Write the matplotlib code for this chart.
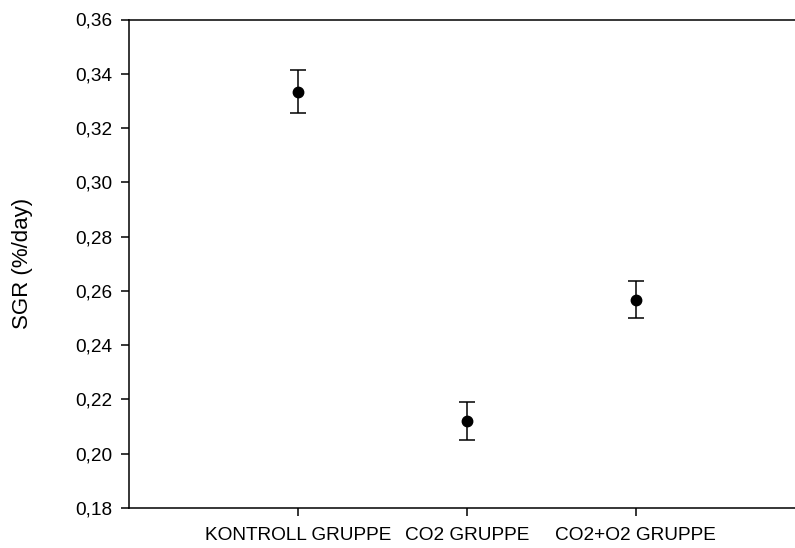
import matplotlib.pyplot as plt

plt.rcParams['font.family'] = ['Liberation Sans', 'DejaVu Sans']

# data
groups = ['KONTROLL GRUPPE', 'CO2 GRUPPE', 'CO2+O2 GRUPPE']
sgr_mean = [0.3334, 0.2122, 0.2568]
sgr_err = [0.0079, 0.0070, 0.0069]
y_ticks = [0.18, 0.20, 0.22, 0.24, 0.26, 0.28, 0.30, 0.32, 0.34, 0.36]

fig = plt.figure(figsize=(7.95, 5.48), dpi=100)
ax = fig.add_axes([128.7 / 795, 40 / 548, 1 - 128.7 / 795, 488.5 / 548])

xpos = list(range(1, len(groups) + 1))
ax.errorbar(xpos, sgr_mean, yerr=sgr_err, fmt='o', color='black',
            markersize=7.5, elinewidth=1.1, capsize=5.5, capthick=1.1)

ax.set_xlim(0, (795 - 128.7) / 169)
ax.set_ylim(0.18, 0.36)
ax.set_yticks(y_ticks)
ax.set_yticklabels([f'{v:.2f}'.replace('.', ',') for v in y_ticks])
ax.set_xticks(xpos)
ax.set_xticklabels(groups)

ax.spines['right'].set_visible(False)
for s in ['left', 'top', 'bottom']:
    ax.spines[s].set_linewidth(1.1)

ax.tick_params(axis='y', direction='out', length=5.5, width=1.1, pad=6, labelsize=13.7)
ax.tick_params(axis='x', direction='out', length=5.5, width=1.1, pad=8, labelsize=13.7)

ax.set_ylabel('SGR (%/day)', fontsize=16)
ax.yaxis.set_label_coords(-(128.7 - 33) / 666.3, 0.5)

fig.savefig('out.png', dpi=100)
